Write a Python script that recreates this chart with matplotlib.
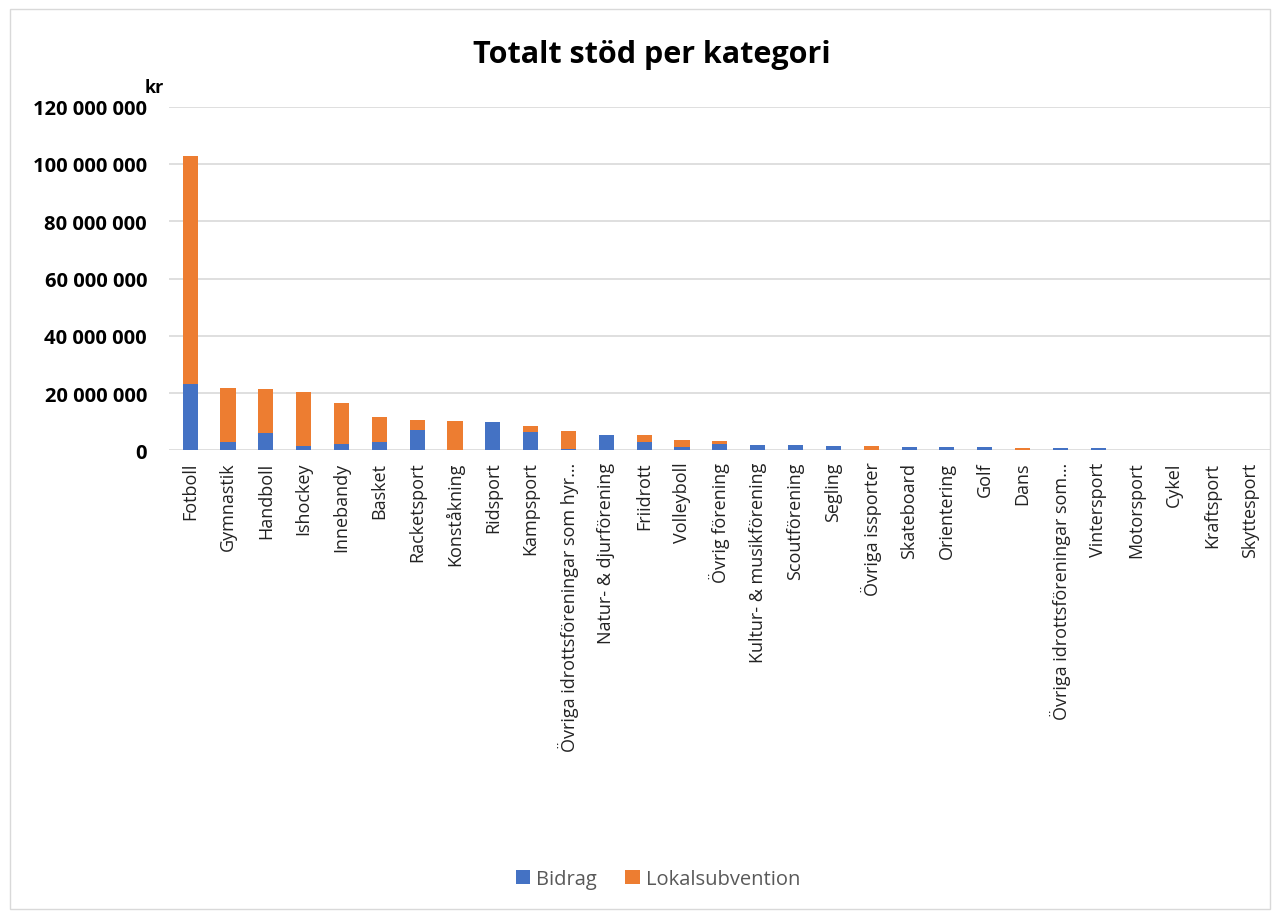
import matplotlib
matplotlib.use("Agg")
import matplotlib.pyplot as plt
from matplotlib.ticker import FuncFormatter
from matplotlib.patches import Rectangle

plt.rcParams["font.family"] = ["Open Sans", "DejaVu Sans"]

categories = [
    "Fotboll", "Gymnastik", "Handboll", "Ishockey", "Innebandy", "Basket",
    "Racketsport", "Konståkning", "Ridsport", "Kampsport",
    "Övriga idrottsföreningar som hyr…", "Natur- & djurförening", "Friidrott",
    "Volleyboll", "Övrig förening", "Kultur- & musikförening", "Scoutförening",
    "Segling", "Övriga issporter", "Skateboard", "Orientering", "Golf", "Dans",
    "Övriga idrottsföreningar som…", "Vintersport", "Motorsport", "Cykel",
    "Kraftsport", "Skyttesport",
]
# values in kr
bidrag = [23.2e6, 2.8e6, 6.0e6, 1.4e6, 2.1e6, 3.0e6, 7.3e6, 0.1e6, 9.8e6, 6.5e6,
          0.6e6, 5.4e6, 3.1e6, 1.3e6, 2.1e6, 2.0e6, 1.8e6, 1.5e6, 0.1e6, 1.2e6,
          1.1e6, 1.1e6, 0.05e6, 0.7e6, 0.7e6, 0.1e6, 0.03e6, 0.03e6, 0.03e6]
lokalsubvention = [79.6e6, 19.0e6, 15.4e6, 19.1e6, 14.3e6, 8.5e6, 3.2e6, 10.2e6, 0.0, 2.2e6,
                   6.2e6, 0.0, 2.3e6, 2.2e6, 1.1e6, 0.0, 0.0, 0.0, 1.4e6, 0.0,
                   0.0, 0.0, 0.75e6, 0.0, 0.0, 0.0, 0.0, 0.0, 0.0]

fig = plt.figure(figsize=(12.73, 9.12), dpi=100)
fig.patches.append(Rectangle((0.008, 0.002), 0.99, 0.987, transform=fig.transFigure,
                             fill=False, edgecolor="#D9D9D9", lw=1))
ax = fig.add_axes([0.133, 0.505, 0.865, 0.377])

x = range(len(categories))
ax.bar(x, bidrag, width=0.4, color="#4472C4", label="Bidrag", zorder=3)
ax.bar(x, lokalsubvention, width=0.4, bottom=bidrag, color="#ED7D31",
       label="Lokalsubvention", zorder=3)

ax.set_ylim(0, 120e6)
ax.set_xlim(-0.55, len(categories) - 0.45)
ax.set_yticks(range(0, 120000001, 20000000))
ax.yaxis.set_major_formatter(FuncFormatter(lambda v, p: f"{int(v):,}".replace(",", " ")))
ax.grid(axis="y", color="#D9D9D9", lw=1.2, zorder=0)
for s in ax.spines.values():
    s.set_visible(False)
ax.tick_params(axis="both", length=0)
ax.tick_params(axis="y", pad=16, labelsize=14.5)
for t in ax.get_yticklabels():
    t.set_fontweight("bold")
ax.set_xticks(list(x))
ax.set_xticklabels(categories, rotation=90, fontsize=13, color="#222222")
ax.tick_params(axis="x", pad=8)

fig.text(0.512, 0.94, "Totalt stöd per kategori", ha="center", va="center",
         fontsize=22, fontweight="bold")
fig.text(0.121, 0.903, "kr", ha="center", va="center", fontsize=13, fontweight="bold")

fig.legend(loc="center", bbox_to_anchor=(0.517, 0.035), ncol=2, frameon=False,
           fontsize=14.5, handlelength=0.7, handleheight=0.7, columnspacing=1.4,
           handletextpad=0.3, labelcolor="#595959")

fig.savefig("out.png", dpi=100)
